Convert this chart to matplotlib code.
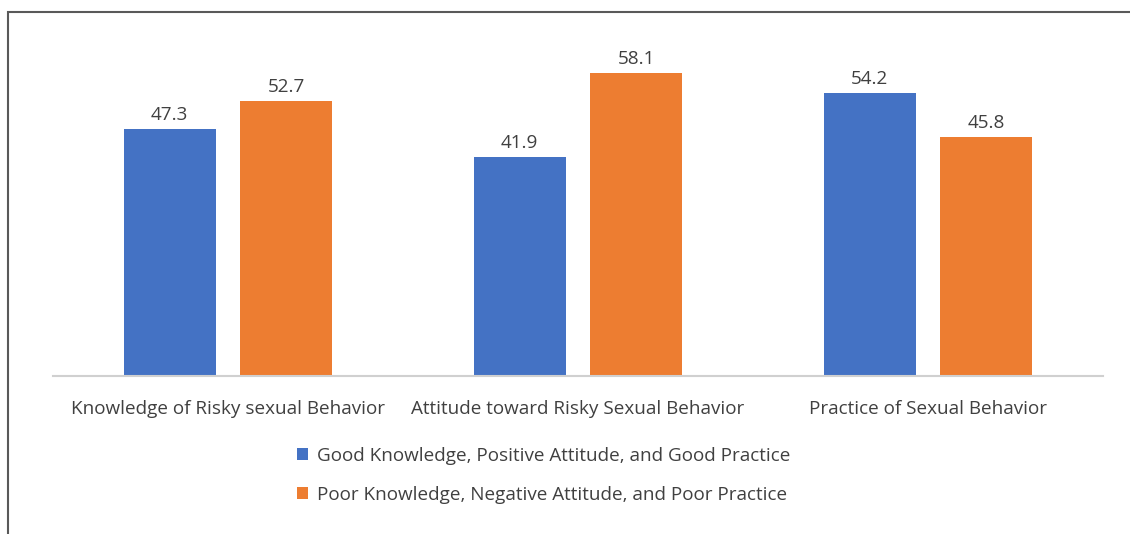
import matplotlib.pyplot as plt
import numpy as np
from matplotlib.patches import Rectangle

categories = ["Knowledge of Risky sexual Behavior",
              "Attitude toward Risky Sexual Behavior",
              "Practice of Sexual Behavior"]
good = [47.3, 41.9, 54.2]
poor = [52.7, 58.1, 45.8]
series_names = ["Good Knowledge, Positive Attitude, and Good Practice",
                "Poor Knowledge, Negative Attitude, and Poor Practice"]

blue = "#4472C4"
orange = "#ED7D31"
txt = "#404040"
fs = 13.6
plt.rcParams['font.family'] = ['Open Sans', 'DejaVu Sans']

W, H = 1130, 534
fig = plt.figure(figsize=(W / 100, H / 100), dpi=100)

# outer frame (left and top edges visible)
fig.patches.append(Rectangle((8 / W, -0.1), 1.2, 1 - 12 / H + 0.1,
                             transform=fig.transFigure, fill=False,
                             edgecolor="#595959", linewidth=1.5))

ax = fig.add_axes([53 / W, (H - 376) / H, 1050 / W, 356 / H])
x = np.arange(len(categories))
w = 0.263
off = 0.167
b1 = ax.bar(x - off, good, w, color=blue, label=series_names[0])
b2 = ax.bar(x + off, poor, w, color=orange, label=series_names[1])

for bars, vals in ((b1, good), (b2, poor)):
    for b, v in zip(bars, vals):
        ax.text(b.get_x() + b.get_width() / 2, v + 1.0, f"{v:.1f}",
                ha="center", va="bottom", fontsize=fs, color=txt)

ax.set_xlim(-0.5, 2.5)
ax.set_ylim(0, 68.2)
ax.set_xticks(x)
ax.set_xticklabels(categories, fontsize=fs, color=txt)
ax.tick_params(axis="x", length=0, pad=17)
ax.set_yticks([])
for s in ["top", "right", "left"]:
    ax.spines[s].set_visible(False)
ax.spines["bottom"].set_color("#D0D0D0")
ax.spines["bottom"].set_linewidth(1.5)

leg = fig.legend(loc="upper left", bbox_to_anchor=(280 / W, 1 - 430 / H),
                 frameon=False, fontsize=fs, handlelength=0.6,
                 handleheight=0.6, handletextpad=0.45, labelspacing=1.1)
for t in leg.get_texts():
    t.set_color(txt)

fig.savefig("out.png", dpi=100)
